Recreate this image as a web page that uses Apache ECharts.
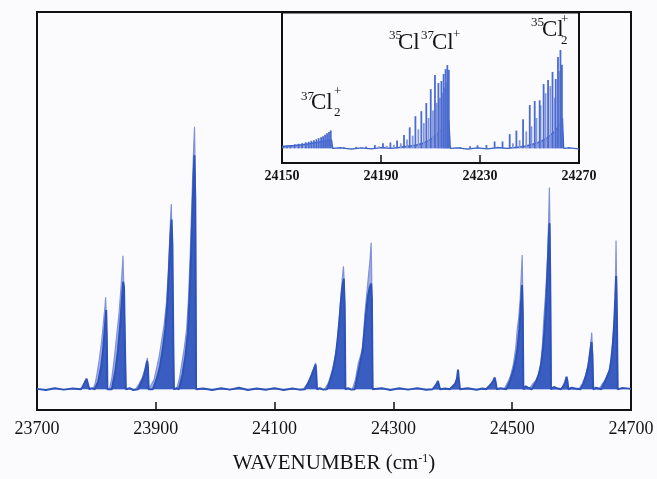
<!DOCTYPE html>
<html>
<head>
<meta charset="utf-8">
<script src="https://cdn.jsdelivr.net/npm/echarts@6/dist/echarts.min.js"></script>
<style>
html,body{margin:0;padding:0;background:#fbfbfe;}
#c{width:657px;height:479px;}
</style>
</head>
<body>
<div id="c"></div>
<script>
// ---- Main spectrum: light envelope of each band [wavenumber, intensity] ----
const mainLight = [
[23794,0],[23798,1.5],[23801,4],[23805,8],[23809,13],[23812,18],[23814.5,22],[23815.5,24.4],[23816.5,20],[23818.5,0],
[23822,0],[23826,3],[23830,8],[23834,14],[23838,20],[23841,26],[23843.5,32],[23844.7,35.4],[23846,28],[23848.5,10],[23849.5,0],
[23866,0],[23872,1.5],[23877,3],[23881,5],[23884,7],[23885.8,8.3],[23887,5],[23888,0],
[23891,0],[23897,2.5],[23902,6],[23906,9],[23910,13],[23914,17],[23918,23],[23921,31],[23923.5,40],[23925,46],[23926,49.1],[23927.5,40],[23929.5,10],[23930.5,0],
[23935,0],[23940,3],[23944,7],[23948,11],[23952,16],[23955,24],[23958,36],[23960,46],[23962,56],[23964,65],[23965.2,69.6],[23966.5,55],[23968,0],
[24148,0],[24153,1],[24157,2],[24161,3.5],[24164,4.8],[24167,6],[24169,7],[24170,7.4],[24170.8,5],[24171.5,0],
[24184,0],[24190,1.5],[24196,4.4],[24200,7],[24204,10.5],[24207,15],[24209.5,20],[24212,25.5],[24214,29.5],[24215.9,32.6],[24217.3,28],[24218.6,8],[24219.3,0],
[24231,0],[24236,2.5],[24241,7],[24245,9],[24248.5,11.5],[24252,20],[24255,25],[24258,30],[24260.5,34],[24262.5,38.8],[24263.5,30],[24264.5,8],[24265.2,0],
[24486,0],[24493,2],[24497,3.5],[24502,6.6],[24506,11],[24508.7,16.2],[24511,19],[24513.5,24],[24515.5,31],[24516.8,35.6],[24517.8,25],[24518.8,0],
[24528,0],[24535,1.5],[24541,2.5],[24545,4.5],[24548,6.6],[24551,12],[24553,18],[24556,25],[24558,30],[24559.8,36],[24561.5,46],[24562.6,53.5],[24563.8,40],[24565.4,0],
[24612,0],[24618,1.5],[24622,3],[24626,5],[24629.3,8],[24631.5,11],[24633.9,15],[24635,11],[24636.6,0],
[24646,0],[24652,1.5],[24657,2.5],[24661,4],[24664.7,5.5],[24667,9],[24670,14],[24672,18],[24673.5,24],[24674.8,39.4],[24675.8,28],[24677.6,0]
];

// ---- Main spectrum: dark core trace incl. baseline ----
const mainDark = [
[23700,0.1],[23715,-0.2],[23730,0.25],[23745,-0.1],[23760,0.2],
[23774,0],[23778,1],[23781,2],[23783.5,2.8],[23785,3.1],[23786.5,2.3],[23788,0],
[23792,0.3],
[23797,0],[23803,2],[23808,6],[23811,10],[23813.5,15],[23815.5,19],[23816.5,21],[23817.5,14],[23818.5,0],
[23821,0.4],
[23826,0],[23832,5],[23836,10],[23840,17],[23843,24],[23845,28.5],[23846.5,27],[23848,12],[23849.5,0],
[23856,0.3],[23862,-0.2],
[23870,0],[23876,2],[23880,3.5],[23883,5.5],[23885.5,7.5],[23886.8,6],[23888,0],
[23891,0.3],
[23895,0],[23902,3],[23907,6],[23912,11],[23916,16],[23919.5,23],[23922,31],[23924.5,40],[23926.5,45],[23928,38],[23929.5,12],[23930.5,0],
[23935,0.3],
[23939,0],[23945,4],[23950,9],[23954,15],[23957,25],[23959.5,36],[23961.5,46],[23963.5,56],[23965,62],[23966.5,50],[23967.8,0],
[23980,0.2],[23995,-0.2],[24010,0.25],[24025,-0.1],[24040,0.4],[24055,-0.2],[24070,0.2],[24085,-0.15],[24100,0.3],[24115,-0.2],[24130,0.2],[24142,-0.1],
[24151,0],[24156,1.5],[24160,2.8],[24163.5,4.2],[24166.5,5.5],[24169,6.5],[24170.4,6.8],[24171.3,0],
[24176,0.3],[24182,-0.1],
[24188,0],[24194,2.5],[24199,5.5],[24203,9],[24206,13],[24209,18],[24211.5,23],[24214,27],[24216.5,29.3],[24218,22],[24219.2,0],
[24224,0.3],[24229,-0.1],
[24235,0],[24240,4],[24244,7],[24248,10],[24251,15],[24254,20],[24257,24.5],[24260,27],[24262.5,28],[24263.8,24],[24265,0],
[24280,0.3],[24295,-0.2],[24310,0.25],[24325,-0.1],[24340,0.3],[24355,-0.15],
[24366,0],[24370,0.8],[24373,1.5],[24375,2.2],[24376,2.7],[24377,1.8],[24378.5,0],
[24387,0.2],
[24395,0],[24400,0.8],[24404,1.5],[24407,2.8],[24408.8,5.2],[24410,3],[24412,0],
[24425,0.25],[24440,-0.15],[24450,0.2],
[24456,0],[24461,0.8],[24465,1.5],[24468,2.2],[24470.5,3.1],[24472,2],[24474,0],
[24480,0.3],
[24490,0],[24497,2.5],[24502,5],[24506,8],[24509,11],[24512,16],[24514.5,22],[24516.5,27.6],[24517.8,20],[24518.8,0],
[24523,0.8],[24527,0.4],
[24533,0],[24540,2],[24545,4],[24549,7],[24552,11],[24555,17],[24557.5,24],[24559.5,32],[24561.5,40],[24562.8,44],[24564,30],[24565.3,0],
[24570,0.6],[24575,0.3],
[24582,0],[24586,0.8],[24589,1.8],[24591.5,3.3],[24593,2.2],[24594.6,0],
[24600,0.4],[24606,0.2],
[24615,0],[24620,1.5],[24624,3.5],[24628,6],[24631,9.5],[24633.5,12.5],[24635,9],[24636.4,0],
[24641,0.4],
[24650,0],[24656,2],[24660,3.5],[24664,5],[24667,8],[24669.5,12],[24671.5,17],[24673.5,24],[24675,30],[24676.3,20],[24677.5,0],
[24685,0.3],[24700,0.1]
];

// ---- Inset: resolved rotational lines [wavenumber, intensity] ----
const inset37Lines = [
[24150.6,0.6],[24152.0,0.8],[24153.4,1.2],[24155.1,1.6],[24156.7,1.8],[24158.1,2.0],[24159.6,2.4],[24160.8,2.6],
[24161.9,3.0],[24162.9,3.2],[24163.9,3.6],[24164.8,4.0],[24165.8,4.4],[24166.6,4.8],[24167.4,5.4],[24168.2,6.0],
[24169.0,6.5],[24169.7,7.1]
];
const inset3537Lines = [
[24187.5,1.3],[24190.8,2.0],[24193.8,2.3],[24196.5,3.1],[24199.3,5.3],[24201.6,8.3],[24203.9,12.7],[24206.3,14.7],
[24208.3,17.9],[24210.1,23.4],[24211.8,29],[24213.2,25.8],[24214.4,26.6],[24215.3,29.4],[24216.1,31.3],[24216.8,32.9],[24217.4,31]
];
const inset3537Weak = [
[24189.3,0.8],[24192.3,1.0],[24195.2,1.4],[24198,2.0],[24200.5,3.5],[24202.8,5],[24205.1,7.5],[24207.3,10],
[24209.2,12],[24211,15],[24212.5,18],[24213.8,20],[24214.9,22],[24215.7,24],[24216.5,26],[24217.1,24]
];
const inset35Lines = [
[24232.6,1.3],[24235.9,2.7],[24239.1,2.7],[24242.0,5.6],[24244.7,7.0],[24247.4,11.5],[24250.1,17.1],[24252.1,18.7],
[24254.1,19],[24255.7,25.4],[24257.5,27],[24259.3,30.2],[24260.6,27.4],[24261.5,36.1],[24262.5,38.9],[24263.1,33]
];
const inset35Weak = [
[24243.3,2.0],[24246.0,3.2],[24248.7,6.7],[24250.8,8.7],[24252.8,12],[24254.5,17],[24256.5,21.8],[24258.4,24.6],
[24260.2,20],[24261.9,30.5]
];
const insetNoiseLines = [
[24175,0.5],[24180,0.6],[24184,0.7],[24222,0.5],[24226,0.8],[24229,1.2],[24266,0.5]
];
// ---- Inset: underlying floor + baseline ----
const insetFloor = [
[24150,0.7],[24152,0.9],[24155,1.1],[24158,1.4],[24161,1.8],[24164,2.3],[24167,2.8],[24169,3.2],[24170,3.4],[24170.5,0],
[24174,0.2],[24178,-0.3],[24182,0.2],[24186,-0.2],[24190,0.3],[24194,0],[24198,0.4],[24201,0.8],[24204,1.2],[24207,2],
[24210,3.5],[24212.5,5.5],[24214.5,7.5],[24216.3,10],[24217.4,11],[24218,0],
[24221,0.2],[24225,-0.3],[24229,0.2],[24233,-0.2],[24237,0.3],[24241,0],[24245,0.4],[24248,0.8],[24251,1.5],[24254,2.5],
[24257,4],[24260,6.5],[24262,9],[24263.3,12],[24263.8,0],
[24266,0.2],[24270,-0.2]
];

const FONT = '"Liberation Serif", "Times New Roman", serif';
const TXT = '#141414';
const plain = v => String(v);

const chart = echarts.init(document.getElementById('c'));

function lbl(text, x, y, size) {
  return { type: 'text', x: x, y: y, z: 100,
    style: { text: text, fontFamily: FONT, fontSize: size, fill: TXT, align: 'left', verticalAlign: 'middle' } };
}

chart.setOption({
  backgroundColor: '#fbfbfe',
  animation: false,
  grid: [
    { left: 37, top: 12, width: 594, height: 401.5, show: true, borderColor: '#111', borderWidth: 2, backgroundColor: 'transparent' },
    { left: 282, top: 12.5, width: 297, height: 150.5, show: true, borderColor: '#111', borderWidth: 2, backgroundColor: '#fbfbfe', z: 5 }
  ],
  xAxis: [
    { gridIndex: 0, type: 'value', min: 23700, max: 24700, interval: 200,
      axisLine: { show: true, onZero: false, lineStyle: { color: '#111', width: 2 } },
      axisTick: { show: true, inside: true, length: 8, lineStyle: { color: '#111', width: 1.5 } },
      axisLabel: { fontFamily: FONT, fontSize: 18, color: TXT, margin: 10, formatter: plain },
      splitLine: { show: false },
      name: '{t|WAVENUMBER (cm}{s|-1}{t|)}', nameLocation: 'middle', nameGap: 43,
      nameTextStyle: { rich: {
        t: { fontFamily: FONT, fontSize: 21, color: TXT },
        s: { fontFamily: FONT, fontSize: 12, color: TXT, verticalAlign: 'top' }
      } } },
    { gridIndex: 1, type: 'value', min: 24150, max: 24270, interval: 40, z: 6,
      axisLine: { show: true, onZero: false, lineStyle: { color: '#111', width: 2 } },
      axisTick: { show: true, inside: true, length: 8, lineStyle: { color: '#111', width: 1.5 } },
      axisLabel: { fontFamily: FONT, fontSize: 14, fontWeight: 'bold', color: TXT, margin: 6, formatter: plain },
      splitLine: { show: false } }
  ],
  yAxis: [
    { gridIndex: 0, type: 'value', min: -5.5, max: 100, show: false, splitLine: { show: false } },
    { gridIndex: 1, type: 'value', min: -5.8, max: 53.7, show: false, splitLine: { show: false } }
  ],
  series: [
    { type: 'line', xAxisIndex: 0, yAxisIndex: 0, data: mainLight, showSymbol: false, silent: true, z: 2,
      lineStyle: { color: '#8093da', width: 1.2 }, areaStyle: { color: '#93a5e2', opacity: 0.9 } },
    { type: 'line', xAxisIndex: 0, yAxisIndex: 0, data: mainDark, showSymbol: false, silent: true, z: 3,
      lineStyle: { color: '#2d52b8', width: 2 }, areaStyle: { color: '#3458be', opacity: 0.95 } },
    { type: 'line', xAxisIndex: 1, yAxisIndex: 1, data: insetFloor, showSymbol: false, silent: true, z: 6,
      lineStyle: { color: '#3b62c6', width: 1.4 }, areaStyle: { color: '#7f92d8', opacity: 0.85 } },
    { type: 'bar', xAxisIndex: 1, yAxisIndex: 1, data: inset3537Weak.concat(inset35Weak), barWidth: 1.8, barGap: '-100%', silent: true, z: 7,
      itemStyle: { color: '#8595da' } },
    { type: 'bar', xAxisIndex: 1, yAxisIndex: 1, data: inset37Lines.concat(inset3537Lines, inset35Lines, insetNoiseLines), barWidth: 1.8, barGap: '-100%', silent: true, z: 8,
      itemStyle: { color: '#4a6bd0' } }
  ],
  graphic: [
    lbl('37', 301, 97, 13), lbl('Cl', 311, 103, 23), lbl('+', 334, 92, 13), lbl('2', 334, 113, 13),
    lbl('35', 389, 36, 13), lbl('Cl', 398, 43, 23), lbl('37', 421, 36, 13), lbl('Cl', 432, 43, 23), lbl('+', 453, 35, 13),
    lbl('35', 531, 23, 13), lbl('Cl', 542, 30, 23), lbl('+', 561, 20, 13), lbl('2', 561, 41, 13)
  ]
});
</script>
</body>
</html>
